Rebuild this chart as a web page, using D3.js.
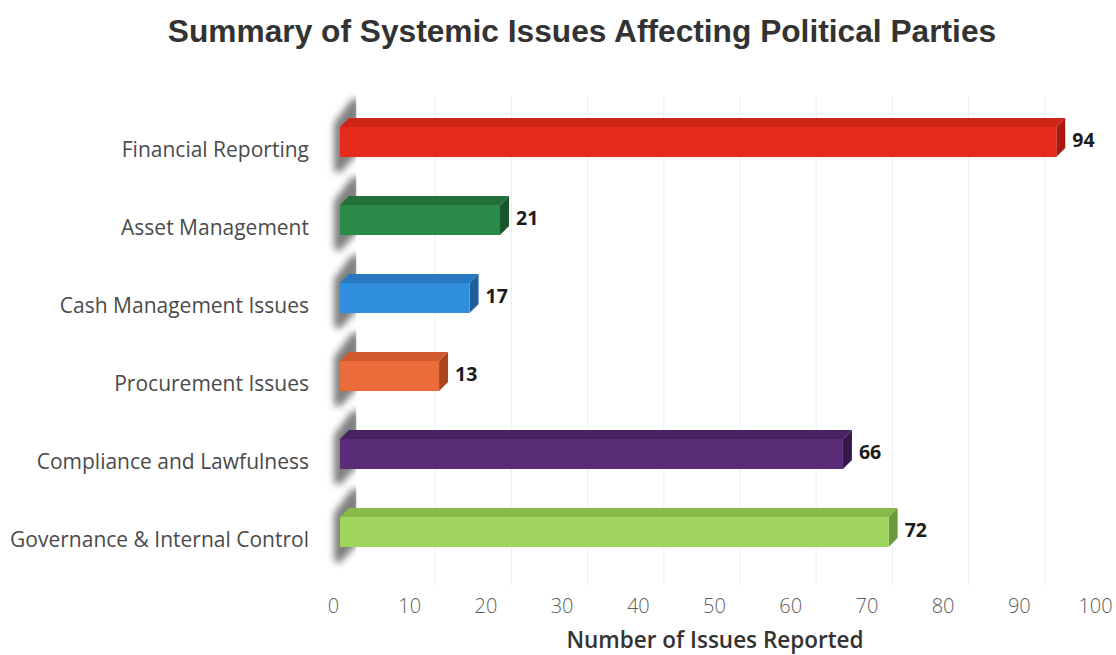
<!DOCTYPE html>
<html>
<head>
<meta charset="utf-8">
<script src="https://cdn.jsdelivr.net/npm/d3@7/dist/d3.min.js"></script>
<style>
  html, body { margin: 0; padding: 0; background: #fff; }
  svg { display: block; }
</style>
</head>
<body>
<svg id="chart" width="1116" height="655"></svg>
<script>
// Systemic issues by category, number of issues reported
const categories = [
  "Financial Reporting",
  "Asset Management",
  "Cash Management Issues",
  "Procurement Issues",
  "Compliance and Lawfulness",
  "Governance & Internal Control"
];
const values = [94, 21, 17, 13, 66, 72];
const tickValues = [0, 10, 20, 30, 40, 50, 60, 70, 80, 90, 100];

// front / top / side shades for each bar
const frontColors = ["#e62a1c", "#2a8a48", "#2f8ede", "#eb6b3b", "#5a2c78", "#9fd55c"];
const topColors   = ["#cf2418", "#226f3a", "#2778c0", "#cf5a2e", "#482262", "#86bb4a"];
const sideColors  = ["#a81a12", "#19562c", "#1d5e9c", "#a9461f", "#36184c", "#6c9a38"];

const svg = d3.select("#chart");
const W = 1116, H = 655;

const x = d3.scaleLinear().domain([0, 100]).range([340, 1102]);
const y = d3.scaleBand().domain(categories).range([88, 586]).paddingInner(0.615).paddingOuter(0.5);

const depthX = 9, depthY = 9;
const labelShift = -7; // tick labels sit slightly left of the bar front plane
const wallX = 357;

const defs = svg.append("defs");
defs.append("filter").attr("id", "soft")
  .attr("x", "-50%").attr("y", "-50%").attr("width", "200%").attr("height", "200%")
  .append("feGaussianBlur").attr("stdDeviation", 3.8);
defs.append("clipPath").attr("id", "wallClip")
  .append("rect").attr("x", 0).attr("y", 0).attr("width", wallX).attr("height", H);

// title
svg.append("text")
  .attr("x", 582).attr("y", 42)
  .attr("text-anchor", "middle")
  .attr("font-family", "'Liberation Sans', Arial, sans-serif")
  .attr("font-weight", "bold")
  .attr("font-size", 31.7)
  .attr("fill", "#333")
  .text("Summary of Systemic Issues Affecting Political Parties");

// faint gridlines on the back wall
svg.append("g")
  .selectAll("line")
  .data(tickValues.slice(1))
  .join("line")
  .attr("x1", d => x(d) + 19).attr("x2", d => x(d) + 19)
  .attr("y1", 96).attr("y2", 585)
  .attr("stroke", "#eeeef4").attr("stroke-width", 1);

// shadows cast on the left wall
const shadowG = svg.append("g").attr("clip-path", "url(#wallClip)");
shadowG.selectAll("path")
  .data(categories)
  .join("path")
  .attr("d", c => {
    const t = y(c), b = y(c) + y.bandwidth();
    return `M334,${t - 4} L352,${t - 28} L360,${t - 28} L360,${b - 6} L340,${b + 16} L334,${b + 14} Z`;
  })
  .attr("fill", "#555")
  .attr("opacity", 0.75)
  .attr("filter", "url(#soft)");

// thin wall edge highlight
svg.append("line")
  .attr("x1", wallX).attr("x2", wallX).attr("y1", 92).attr("y2", 585)
  .attr("stroke", "#fff").attr("stroke-width", 1.5);

// 3D bars
const bars = svg.append("g")
  .selectAll("g")
  .data(categories.map((c, i) => ({ c, v: values[i], i })))
  .join("g");

bars.append("path") // top face
  .attr("d", d => {
    const x0 = x(0), x1 = x(d.v), t = y(d.c);
    return `M${x0},${t} L${x0 + depthX},${t - depthY} L${x1 + depthX},${t - depthY} L${x1},${t} Z`;
  })
  .attr("fill", d => topColors[d.i]);

bars.append("path") // side face
  .attr("d", d => {
    const x1 = x(d.v), t = y(d.c), b = t + y.bandwidth();
    return `M${x1},${t} L${x1 + depthX},${t - depthY} L${x1 + depthX},${b - depthY} L${x1},${b} Z`;
  })
  .attr("fill", d => sideColors[d.i]);

bars.append("rect") // front face
  .attr("x", x(0))
  .attr("y", d => y(d.c))
  .attr("width", d => x(d.v) - x(0))
  .attr("height", y.bandwidth())
  .attr("fill", d => frontColors[d.i]);

// value labels
bars.append("text")
  .attr("x", d => x(d.v) + depthX + 7)
  .attr("y", d => y(d.c) + y.bandwidth() / 2)
  .attr("dominant-baseline", "middle")
  .attr("font-family", "'Open Sans', Lato, sans-serif")
  .attr("font-weight", "bold")
  .attr("font-size", 19.5)
  .attr("fill", "#1c1c1c")
  .text(d => d.v);

// category labels
svg.append("g")
  .selectAll("text")
  .data(categories)
  .join("text")
  .attr("x", 309)
  .attr("y", c => y(c) + y.bandwidth() / 2 + 9)
  .attr("text-anchor", "end")
  .attr("dominant-baseline", "middle")
  .attr("font-family", "'Open Sans', Lato, sans-serif")
  .attr("font-size", 21)
  .attr("fill", "#4a4a4a")
  .text(c => c);

// x axis tick labels
const xAxis = d3.axisBottom(x).tickValues(tickValues).tickSize(0).tickPadding(0).tickFormat(d3.format("d"));
const axisG = svg.append("g")
  .attr("transform", `translate(${labelShift},599)`)
  .call(xAxis);
axisG.select(".domain").remove();
axisG.selectAll("text")
  .attr("font-family", "'Open Sans', Lato, sans-serif")
  .attr("font-weight", 300)
  .attr("font-size", 20)
  .attr("fill", "#5e5e5e");

// axis title
svg.append("text")
  .attr("x", 715).attr("y", 648)
  .attr("text-anchor", "middle")
  .attr("font-family", "'Open Sans', Lato, sans-serif")
  .attr("font-weight", 600)
  .attr("font-size", 22.5)
  .attr("fill", "#333")
  .text("Number of Issues Reported");
</script>
</body>
</html>
